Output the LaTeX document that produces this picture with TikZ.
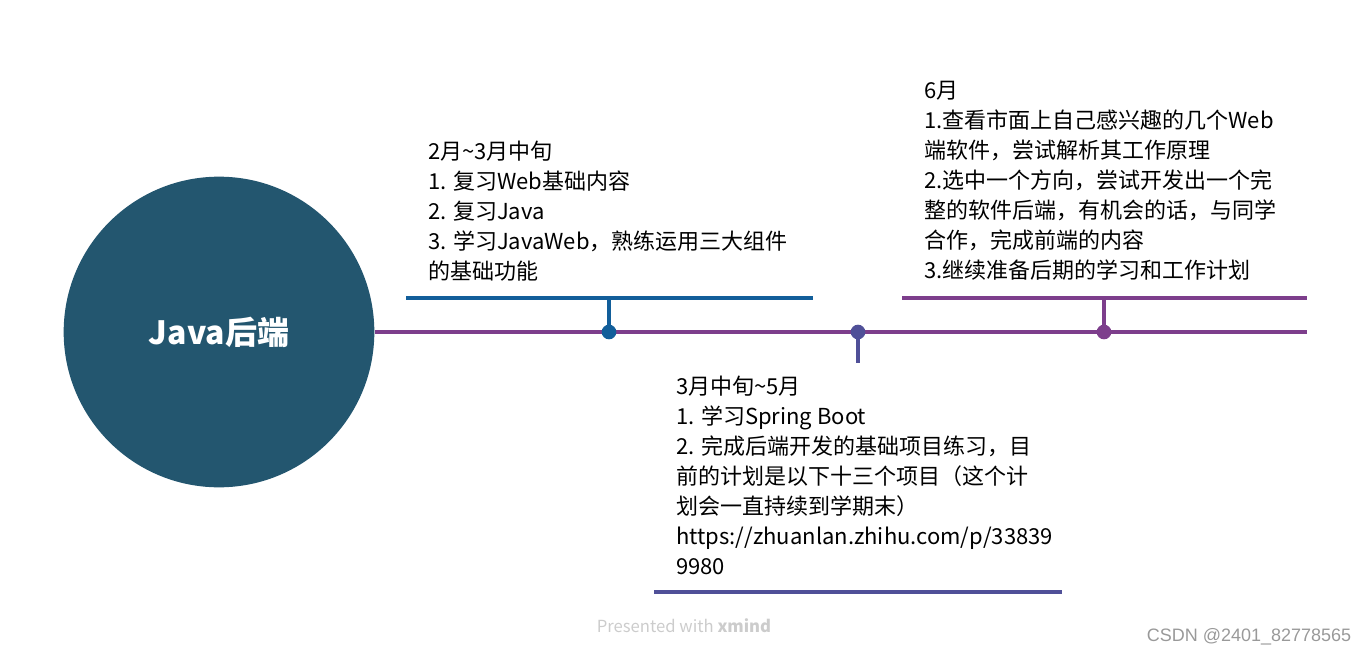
\documentclass[tikz,border=0pt]{standalone}
\usepackage{fontspec}
\setmainfont{Noto Sans CJK SC}
\newfontfamily\wmfont{Liberation Sans}
\usetikzlibrary{positioning}

\definecolor{rootblue}{RGB}{35,86,111}
\definecolor{trunkpurple}{RGB}{125,62,140}
\definecolor{febblue}{RGB}{18,94,154}
\definecolor{mayindigo}{RGB}{80,80,152}
\definecolor{junpurple}{RGB}{125,62,140}

\begin{document}
\begin{tikzpicture}[
  x=0.75pt, y=-0.75pt,
  line/.style={line width=2.6pt},
  dot/.style={circle, fill, inner sep=0pt, minimum size=11pt},
  note/.style={anchor=north west, align=left, inner sep=0pt,
               font=\fontsize{16.5}{22.5}\selectfont},
]
\useasboundingbox (0,0) rectangle (1370,657);

% central topic
\node[circle, fill=rootblue, minimum size=233pt, inner sep=0pt, text=white,
      font=\bfseries\fontsize{24}{28}\selectfont] (root) at (219,332) {Java后端};

% timeline
\coordinate (trunkend) at (1307,332);
\draw[line, trunkpurple] (root.east) -- (trunkend);

\node[dot, febblue]    (feb) at (609,332)  {};
\node[dot, mayindigo]  (may) at (858,332)  {};
\node[dot, junpurple]  (jun) at (1104,332) {};

% stems and bars
\coordinate (febstem) at (609,298);
\coordinate (febbarl) at (406,298);
\coordinate (febbarr) at (813,298);
\draw[line, febblue] (feb.center) -- (febstem);
\draw[line, febblue] (febbarl) -- (febbarr);

\coordinate (maystem) at (858,363);
\coordinate (maybarl) at (654,592);
\coordinate (maybarr) at (1062,592);
\draw[line, mayindigo] (may.center) -- (maystem);
\draw[line, mayindigo] (maybarl) -- (maybarr);

\coordinate (junstem) at (1104,298);
\coordinate (junbarl) at (902,298);
\coordinate (junbarr) at (1307,298);
\draw[line, junpurple] (jun.center) -- (junstem);
\draw[line, junpurple] (junbarl) -- (junbarr);

% notes
\node[note] (febnote) at (428,141) {2月\textasciitilde3月中旬\\
  1. 复习Web基础内容\\
  2. 复习Java\\
  3. 学习JavaWeb，熟练运用三大组件\\
  的基础功能};

\node[note] (maynote) at (676,376) {3月中旬\textasciitilde5月\\
  1. 学习Spring Boot\\
  2. 完成后端开发的基础项目练习，目\\
  前的计划是以下十三个项目（这个计\\
  划会一直持续到学期末）\\
  https://zhuanlan.zhihu.com/p/33839\\
  9980};

\node[note] (junnote) at (924,81) {6月\\
  1.查看市面上自己感兴趣的几个Web\\
  端软件，尝试解析其工作原理\\
  2.选中一个方向，尝试开发出一个完\\
  整的软件后端，有机会的话，与同学\\
  合作，完成前端的内容\\
  3.继续准备后期的学习和工作计划};

% footer
\node[text=gray!40, font=\fontsize{12.5}{14}\selectfont] (credit) at (684,626)
  {Presented with \textbf{xmind}};
\node[anchor=east, text=gray!80, font=\wmfont\fontsize{13.5}{15}\selectfont] (csdn)
  at (1356,637) {CSDN @2401\_82778565};
\end{tikzpicture}
\end{document}
